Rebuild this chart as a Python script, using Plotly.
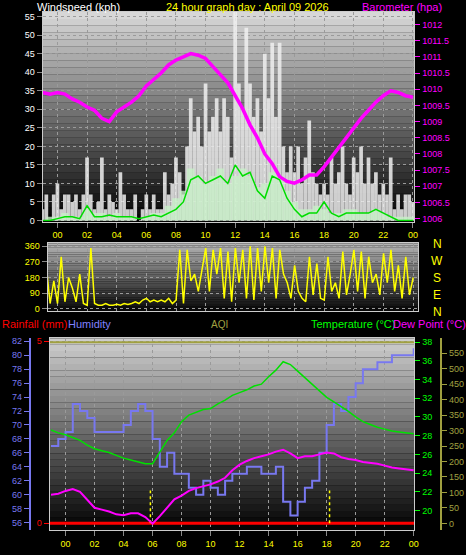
import plotly.graph_objects as go

# ---- top panel: wind and barometer ----
gust_t = [-1 + i * 0.25 for i in range(101)]
gust = [3, 7, 0, 7, 10, 3, 7, 7, 5, 7, 3, 7, 17, 7, 3, 5, 17, 3, 7, 5,
        3, 13, 7, 3, 3, 7, 0, 3, 7, 3, 7, 3, 3, 13, 7, 10, 17, 13, 7, 20,
        33, 24, 28, 20, 37, 24, 28, 33, 24, 33, 28, 17, 57, 37, 30, 52,
        37, 28, 33, 24, 45, 33, 48, 28, 48, 20, 13, 20, 13, 20, 10, 17,
        27, 13, 10, 7, 10, 7, 17, 10, 13, 20, 10, 7, 17, 13, 20, 10,
        17, 10, 13, 7, 10, 7, 17, 3, 7, 3, 7, 7, 5]

half_t = [-1 + i * 0.5 for i in range(51)]
speed = [0, 1, 1, 2, 1, 1, 3, 2, 2, 1, 2, 1, 1, 0, 1, 2, 2, 4, 6, 8,
         14, 12, 10, 12, 14, 10, 12, 14, 12, 9, 10, 13, 12, 8, 5, 3, 3, 4,
         3, 2, 2, 3, 3, 2, 2, 3, 2, 1, 1, 1, 1]
avg_wind = [0, 0, 0.5, 1, 1, 0.5, 4, 1, 1, 1.5, 1, 1, 1, 0.5, 1, 1.5, 1, 2,
            3, 5, 11, 12, 10, 11, 12, 10, 15, 12, 13, 8, 6, 12, 11, 6, 3, 1,
            2, 2, 5, 2, 1, 2, 2, 2, 2, 3, 2, 1, 0, 0, 0]
baro = [1009.9, 1009.85, 1009.9, 1009.85, 1009.7, 1009.6, 1009.45, 1009.35,
        1009.1, 1009.0, 1009.3, 1009.45, 1009.6, 1009.8, 1010.1, 1010.3,
        1010.5, 1010.75, 1010.9, 1011.0, 1011.1, 1011.05, 1010.95, 1010.7,
        1010.45, 1010.2, 1009.8, 1009.4, 1008.9, 1008.5, 1008.0, 1007.7,
        1007.3, 1007.15, 1007.1, 1007.2, 1007.35, 1007.35, 1007.6, 1007.9,
        1008.2, 1008.5, 1008.8, 1009.1, 1009.35, 1009.6, 1009.8, 1009.95,
        1009.9, 1009.8, 1009.75]

# ---- middle panel: wind direction ----
direction = [30, 240, 30, 160, 30, 300, 40, 180, 120, 40, 200, 30, 20, 350, 30, 20,
             20, 30, 20, 20, 25, 20, 30, 25, 30, 40, 30, 50, 60, 40, 50, 40,
             50, 40, 60, 30, 50, 340, 30, 340, 160, 200, 100, 220, 350, 100, 340, 200,
             350, 60, 330, 40, 350, 150, 340, 60, 360, 50, 350, 100, 360, 150, 350, 60,
             340, 200, 150, 60, 250, 100, 60, 40, 300, 80, 260, 60, 50, 300, 100, 150,
             60, 330, 80, 200, 340, 100, 330, 60, 300, 150, 200, 80, 320, 150, 340, 100,
             250, 60, 300, 80, 180]

# ---- bottom panel ----
humidity = [67, 68, 69, 73, 72, 71, 69, 69, 69, 69, 70, 72, 73, 72, 68, 64,
            66, 63, 63, 61, 60, 62, 61, 60, 62, 63, 63, 64, 64, 63, 63, 64,
            59, 57, 59, 61, 62, 66, 70, 73, 72, 74, 76, 78, 78, 79, 79, 80,
            80, 80, 81]
temperature = [28.6, 28.3, 28.1, 27.8, 27.5, 27.0, 26.6, 26.4, 26.2, 25.9,
               25.6, 25.4, 25.2, 25.0, 25.0, 26.2, 27.5, 28.3, 29.5, 30.2,
               30.5, 30.8, 30.9, 31.4, 31.8, 32.3, 32.6, 32.9, 33.3, 33.5,
               34.3, 35.0, 35.9, 35.6, 34.9, 34.2, 33.5, 32.8, 32.1, 31.6,
               31.1, 30.6, 30.0, 29.5, 29.2, 28.9, 28.7, 28.5, 28.4, 28.3, 28.2]
dewpoint = [21.7, 21.8, 22.1, 22.3, 22.0, 21.1, 20.3, 20.1, 19.9, 19.6,
            19.5, 19.7, 19.7, 19.3, 18.6, 19.4, 20.3, 21.2, 21.6, 22.1,
            22.4, 22.6, 22.8, 23.1, 23.5, 24.3, 24.9, 25.3, 25.6, 25.8,
            26.0, 26.3, 26.5, 26.1, 25.6, 25.8, 25.8, 26.0, 26.2, 26.1,
            25.7, 25.5, 25.4, 25.2, 25.1, 25.0, 24.8, 24.6, 24.5, 24.4, 24.3]
rain_t = [-1.1, 24.05]
rainfall = [0, 0]
aqi = [585, 585]
sun_times = [5.85, 18.2]

hour_vals = list(range(0, 25, 2))
hour_text = ["%02d" % (h % 24) for h in hour_vals]

fig = go.Figure()
fig.add_trace(go.Bar(x=gust_t, y=gust, width=0.25, marker_color="rgba(240,240,240,0.85)",
                     marker_line_width=0, xaxis="x", yaxis="y"))
fig.add_trace(go.Bar(x=half_t, y=speed, width=0.5, marker_color="rgba(200,240,200,0.8)",
                     marker_line_width=0, xaxis="x", yaxis="y"))
fig.add_trace(go.Scatter(x=half_t, y=avg_wind, mode="lines", line=dict(color="#00dd00", width=1.5),
                         xaxis="x", yaxis="y"))
fig.add_trace(go.Scatter(x=half_t, y=baro, mode="lines", line=dict(color="#ff00ff", width=3.5),
                         xaxis="x", yaxis="y2"))
fig.add_trace(go.Scatter(x=gust_t, y=direction, mode="lines", line=dict(color="#ffff00", width=1.5),
                         xaxis="x2", yaxis="y3"))
fig.add_trace(go.Scatter(x=rain_t, y=aqi, mode="lines", line=dict(color="#a0a040", width=2),
                         xaxis="x3", yaxis="y7"))
fig.add_trace(go.Scatter(x=half_t, y=humidity, mode="lines", line=dict(color="#7878f0", width=2, shape="hv"),
                         xaxis="x3", yaxis="y4"))
fig.add_trace(go.Scatter(x=half_t, y=temperature, mode="lines", line=dict(color="#00e000", width=1.5),
                         xaxis="x3", yaxis="y6"))
fig.add_trace(go.Scatter(x=half_t, y=dewpoint, mode="lines", line=dict(color="#ff00ff", width=2),
                         xaxis="x3", yaxis="y6"))
fig.add_trace(go.Scatter(x=rain_t, y=rainfall, mode="lines", line=dict(color="#ff0000", width=3),
                         xaxis="x3", yaxis="y5"))
for t in sun_times:
    fig.add_trace(go.Scatter(x=[t, t], y=[0, 0.9], mode="lines",
                             line=dict(color="#ffff00", width=1.5, dash="dot"),
                             xaxis="x3", yaxis="y5"))

# gradient backgrounds
shapes = []
def gradient(xd, yd, top, bottom, n=30):
    for i in range(n):
        f = i / (n - 1)
        g = int(top + (bottom - top) * f)
        y1 = yd[1] - (yd[1] - yd[0]) * i / n
        y0 = yd[1] - (yd[1] - yd[0]) * (i + 1) / n
        shapes.append(dict(type="rect", xref="paper", yref="paper", layer="below",
                           x0=xd[0], x1=xd[1], y0=y0, y1=y1, line_width=0,
                           fillcolor="rgb(%d,%d,%d)" % (g, g, g)))

d1x, d1y = [43 / 466, 418 / 466], [1 - 222 / 555, 1 - 10 / 555]
d2x, d2y = [48 / 466, 422 / 466], [1 - 312 / 555, 1 - 244 / 555]
d3x, d3y = [50 / 466, 418 / 466], [1 - 534 / 555, 1 - 340 / 555]
gradient(d1x, d1y, 215, 5)
gradient(d2x, d2y, 180, 10)
gradient(d3x, d3y, 205, 5)

tick = dict(family="Liberation Sans", size=9)
grid = dict(showgrid=True, gridcolor="#9a9a9a", griddash="dot", gridwidth=1, zeroline=False)

annotations = []
def label(x, y, text, color, size=11, xanchor="left"):
    annotations.append(dict(x=x / 466, y=1 - y / 555, xref="paper", yref="paper", text=text,
                            showarrow=False, xanchor=xanchor, yanchor="middle",
                            font=dict(family="Liberation Sans", size=size, color=color)))

label(35, 5, "Windspeed (kph)", "white")
label(250, 5, "24 hour graph day : April 09 2026", "#ffff00", xanchor="center")
label(448, 5, "Barometer (hpa)", "#ff00ff", xanchor="right")
for y, t in zip([245, 262, 279, 296, 313], ["N", "W", "S", "E", "N"]):
    label(441, y, t, "#ffff00", size=12, xanchor="center")
label(0, 326, "Rainfall (mm)", "#ff0000")
label(67, 326, "Humidity", "#8080ff")
label(221, 326, "AQI", "#a0a040", size=10, xanchor="center")
label(312, 326, "Temperature (°C)", "#00ff00")
label(394, 326, "Dew Point (°C)", "#ff00ff")

fig.update_layout(
    width=466, height=555, margin=dict(l=0, r=0, t=0, b=0),
    paper_bgcolor="black", plot_bgcolor="rgba(0,0,0,0)",
    showlegend=False, barmode="overlay", shapes=shapes, annotations=annotations,
    xaxis=dict(domain=d1x, range=[-1, 24.1], tickvals=hour_vals, ticktext=hour_text,
               tickfont=dict(color="#ffff00", **tick), ticks="outside", tickcolor="#888",
               showline=True, linecolor="#cccccc", mirror=True, anchor="y", **grid),
    yaxis=dict(domain=d1y, range=[-0.3, 56.3], dtick=5, tickfont=dict(color="white", **tick),
               ticks="outside", tickcolor="#888", showline=True, linecolor="#cccccc", mirror=True,
               anchor="x", **grid),
    yaxis2=dict(overlaying="y", side="right", anchor="x", range=[1005.91, 1012.39],
                tickvals=[1006 + 0.5 * i for i in range(13)],
                ticktext=["%g" % (1006 + 0.5 * i) for i in range(13)],
                tickfont=dict(color="#ff00ff", **tick), ticks="outside", tickcolor="#ff00ff",
                showgrid=False, zeroline=False),
    xaxis2=dict(domain=d2x, range=[-0.67, 24.35], anchor="y3", showticklabels=False,
                showline=True, linecolor="#cccccc", mirror=True, tickvals=hour_vals, **grid),
    yaxis3=dict(domain=d2y, range=[-11, 377], tickvals=[0, 90, 180, 270, 360], anchor="x2",
                tickfont=dict(color="#ffff00", **tick), ticks="outside", tickcolor="#888",
                showline=True, linecolor="#cccccc", mirror=True, **grid),
    xaxis3=dict(domain=d3x, range=[-1.1, 24.05], anchor="y5", tickvals=hour_vals, ticktext=hour_text,
                tickfont=dict(color="#ffff00", **tick), ticks="outside", tickcolor="#888",
                showline=True, linecolor="#cccccc", mirror=True, **grid),
    yaxis5=dict(domain=d3y, range=[-0.19, 5.08], tickvals=[0, 5], anchor="x3",
                tickfont=dict(color="#ff0000", **tick), ticks="outside", tickcolor="#ff0000",
                showline=True, linecolor="#cccccc", mirror=True, **grid),
    yaxis4=dict(overlaying="y5", anchor="free", position=30 / 466, side="left",
                range=[54.9, 82.43], dtick=2, tickfont=dict(color="#7878f0", **tick),
                ticks="outside", tickcolor="#7878f0", showline=True, linecolor="#7878f0",
                linewidth=2, showgrid=False, zeroline=False),
    yaxis6=dict(overlaying="y5", anchor="x3", side="right", range=[17.9, 38.4],
                tickvals=list(range(20, 39, 2)), tickfont=dict(color="#00ff00", **tick),
                ticks="outside", tickcolor="#00ff00", showgrid=False, zeroline=False),
    yaxis7=dict(overlaying="y5", anchor="free", position=445 / 466, side="right",
                range=[-22, 598], dtick=50, tickfont=dict(color="#a0a040", **tick),
                ticks="outside", tickcolor="#a0a040", showline=True, linecolor="#a0a040",
                linewidth=2, showgrid=False, zeroline=False),
)

fig.write_html("out.html", config={"displayModeBar": False},
               post_script="document.body.style.margin='0';")
